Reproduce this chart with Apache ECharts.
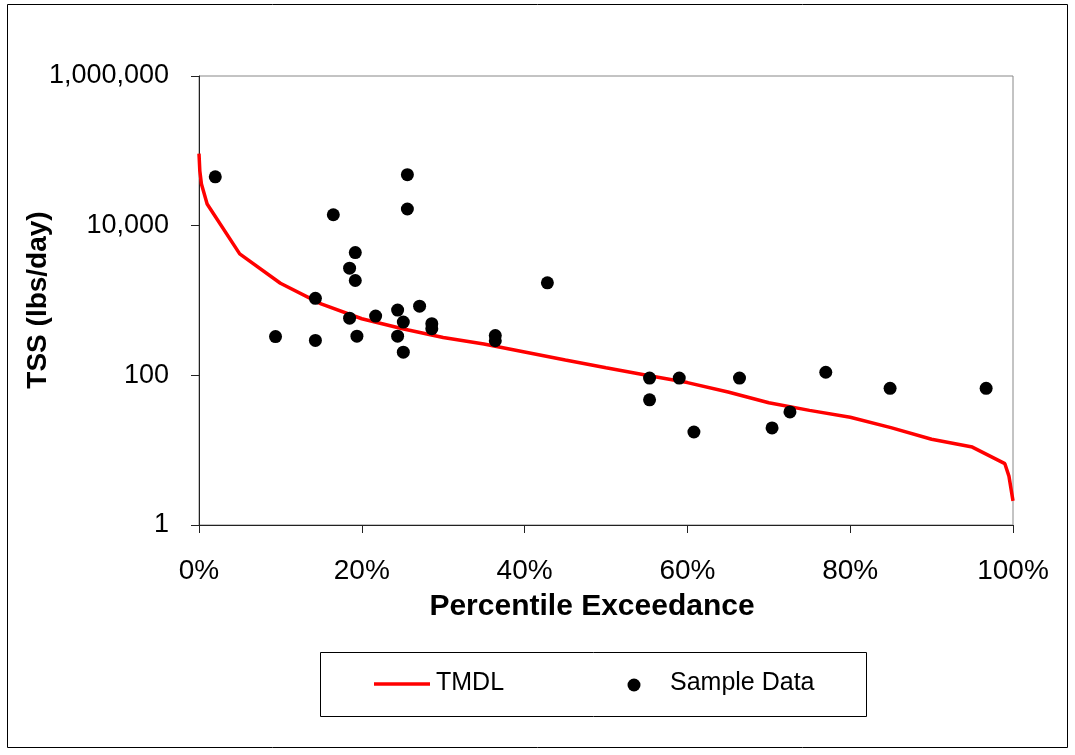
<!DOCTYPE html>
<html><head><meta charset="utf-8">
<script src="https://cdn.jsdelivr.net/npm/echarts@6/dist/echarts.min.js"></script>
<style>html,body{margin:0;padding:0;background:#fff}#c{width:1075px;height:755px}</style>
</head><body><div id="c"></div>
<script>
const tmdlPct = [0, 0.001, 0.003, 0.01, 0.05, 0.10, 0.15, 0.20, 0.25, 0.30, 0.35, 0.40, 0.45, 0.50, 0.55, 0.60, 0.65, 0.70, 0.75, 0.80, 0.85, 0.90, 0.95, 0.99, 0.995, 1.0];
const tmdlVal = [92000, 54000, 36000, 19500, 4200, 1700, 900, 570, 420, 320, 262, 205, 160, 126, 100, 80, 60, 43, 34, 27.5, 20, 14, 11, 6.6, 4.5, 2.1];
const samplePct = [0.020, 0.094, 0.143, 0.143, 0.165, 0.185, 0.185, 0.192, 0.192, 0.194, 0.217, 0.244, 0.244, 0.251, 0.251, 0.256, 0.256, 0.271, 0.286, 0.286, 0.364, 0.364, 0.428, 0.5535, 0.5535, 0.590, 0.608, 0.664, 0.704, 0.726, 0.770, 0.849, 0.967];
const sampleVal = [45000, 330, 1070, 293, 14000, 2700, 580, 4370, 1850, 334, 620, 745, 334, 515, 204, 48000, 16700, 840, 490, 420, 340, 290, 1720, 92, 47, 92, 17.5, 92, 19.8, 32.4, 110, 67, 67];
const xTicks = [0, 0.2, 0.4, 0.6, 0.8, 1.0];
const yTicks = [1, 100, 10000, 1000000];
const seriesNames = ['TMDL', 'Sample Data'];
const xTitle = 'Percentile Exceedance';
const yTitle = 'TSS (lbs/day)';

const FONT = '"Liberation Sans", Arial, sans-serif';
const chart = echarts.init(document.getElementById('c'), null, {renderer: 'canvas'});
chart.setOption({
  animation: false,
  backgroundColor: '#fff',
  grid: {left: 199, top: 76, right: 62, bottom: 230, show: true, borderColor: '#888', borderWidth: 1, backgroundColor: 'transparent'},
  xAxis: {
    type: 'value', min: xTicks[0], max: xTicks[xTicks.length - 1], interval: 0.2,
    axisLine: {lineStyle: {color: '#222', width: 1}},
    axisTick: {show: true, inside: false, length: 8, lineStyle: {color: '#222'}},
    axisLabel: {margin: 32, color: '#000', fontFamily: FONT, fontSize: 28,
      formatter: v => Math.round(v * 100) + '%'},
    splitLine: {show: false}
  },
  yAxis: {
    type: 'log', logBase: 100, min: yTicks[0], max: yTicks[yTicks.length - 1],
    axisLine: {show: true, lineStyle: {color: '#222', width: 1}},
    axisTick: {show: true, inside: false, length: 8, lineStyle: {color: '#222'}},
    axisLabel: {margin: 30, color: '#000', fontFamily: FONT, fontSize: 27,
      formatter: v => Math.round(v).toLocaleString('en-US')},
    splitLine: {show: false},
    minorTick: {show: false}
  },
  series: [
    {name: seriesNames[0], type: 'line', data: tmdlPct.map((p, i) => [p, tmdlVal[i]]),
      showSymbol: false, symbol: 'none', lineStyle: {color: '#ff0000', width: 3.5}, z: 2},
    {name: seriesNames[1], type: 'scatter', data: samplePct.map((p, i) => [p, sampleVal[i]]),
      symbol: 'circle', symbolSize: 13, itemStyle: {color: '#000', opacity: 1}, z: 3}
  ],
  graphic: [
    {type: 'rect', shape: {x: 7.5, y: 4.5, width: 1060, height: 743}, style: {fill: 'none', stroke: '#000', lineWidth: 1}, silent: true, z: -1},
    {type: 'text', x: 592, y: 607, style: {text: xTitle, font: 'bold 30px ' + FONT, fill: '#000', textAlign: 'center', textVerticalAlign: 'middle'}},
    {type: 'text', x: 38, y: 300, rotation: Math.PI / 2, style: {text: yTitle, font: 'bold 28px ' + FONT, fill: '#000', textAlign: 'center', textVerticalAlign: 'middle'}},
    {type: 'rect', shape: {x: 320.5, y: 652.5, width: 546, height: 64}, style: {fill: '#fff', stroke: '#000', lineWidth: 1}},
    {type: 'line', shape: {x1: 374, y1: 684, x2: 430, y2: 684}, style: {stroke: '#ff0000', lineWidth: 3.5}},
    {type: 'text', x: 436, y: 683, style: {text: seriesNames[0], font: '25px ' + FONT, fill: '#000', textVerticalAlign: 'middle'}},
    {type: 'circle', shape: {cx: 634, cy: 685, r: 6.5}, style: {fill: '#000'}},
    {type: 'text', x: 670, y: 683, style: {text: seriesNames[1], font: '25px ' + FONT, fill: '#000', textVerticalAlign: 'middle'}}
  ]
});
</script></body></html>
